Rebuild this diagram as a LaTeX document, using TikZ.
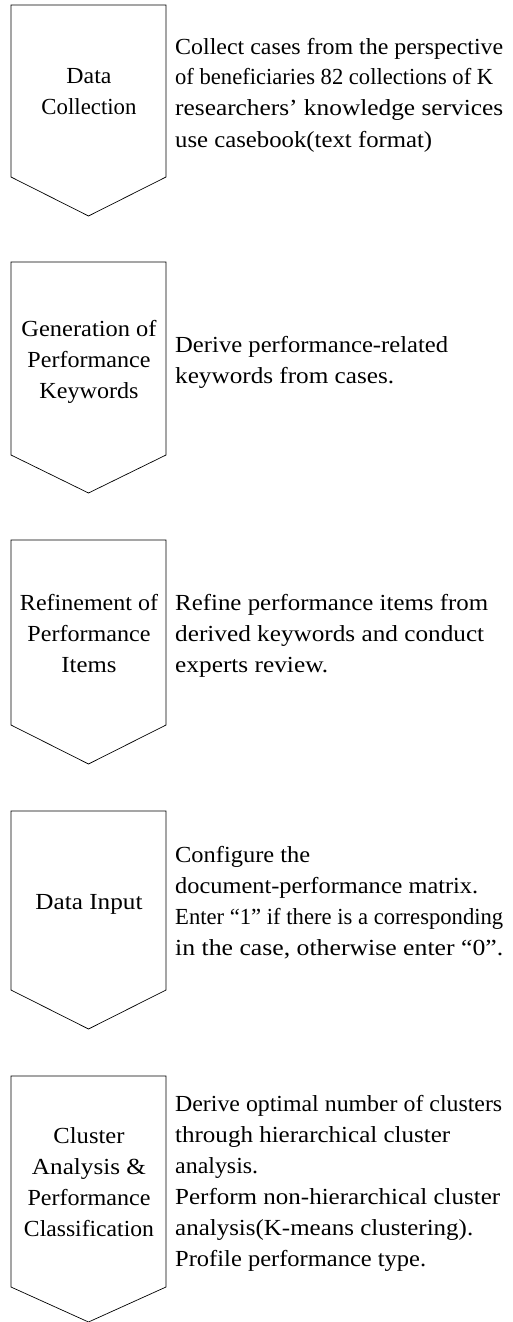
\documentclass[tikz,border=0pt]{standalone}
\usepackage{fontspec}
\usepackage{graphicx}
\setmainfont{Liberation Serif}
\newcommand{\fl}[2]{\resizebox{#1pt}{\height}{#2}}
\begin{document}
\begin{tikzpicture}[x=1pt,y=-1pt,
  chev/.style={draw=black, line width=0.7pt, line join=miter},
  lbl/.style={anchor=base, inner sep=0pt, font=\fontsize{23}{31}\selectfont},
  desc/.style={anchor=base west, inner sep=0pt, font=\fontsize{23}{31}\selectfont}]
\useasboundingbox (0,0) rectangle (512,1322);
% chevrons
\draw[chev] (11,5) coordinate (c1) -- (166,5) -- (166,177) -- (88.5,216) -- (11,177) -- cycle;
\draw[chev] (11,262) coordinate (c2) -- (166,262) -- (166,455) -- (88.5,493) -- (11,455) -- cycle;
\draw[chev] (11,540) coordinate (c3) -- (166,540) -- (166,725) -- (88.5,764) -- (11,725) -- cycle;
\draw[chev] (11,811) coordinate (c4) -- (166,811) -- (166,990) -- (88.5,1029) -- (11,990) -- cycle;
\draw[chev] (11,1076) coordinate (c5) -- (166,1076) -- (166,1287) -- (88.5,1322) -- (11,1287) -- cycle;
% labels
\node[lbl] (l1) at (89,84) {\begin{tabular}[t]{@{}c@{}}\fl{45}{Data}\\\fl{95}{Collection}\end{tabular}};
\node[lbl] (l2) at (89,336.5) {\begin{tabular}[t]{@{}c@{}}\fl{135}{Generation of}\\\fl{123}{Performance}\\\fl{99}{Keywords}\end{tabular}};
\node[lbl] (l3) at (89,610.5) {\begin{tabular}[t]{@{}c@{}}\fl{138}{Refinement of}\\\fl{123}{Performance}\\\fl{55}{Items}\end{tabular}};
\node[lbl] (l4) at (89,909) {\fl{107}{Data Input}};
\node[lbl] (l5) at (89,1143) {\begin{tabular}[t]{@{}c@{}}\fl{71}{Cluster}\\\fl{114}{Analysis \&}\\\fl{123}{Performance}\\\fl{130}{Classification}\end{tabular}};
% descriptions
\node[desc] (d1) at (175,54) {\begin{tabular}[t]{@{}l@{}}\fl{328}{Collect cases from the perspective}\\\fl{318}{of beneficiaries 82 collections of K}\\\fl{328}{researchers’ knowledge services}\\\fl{257}{use casebook(text format)}\end{tabular}};
\node[desc] (d2) at (175,352) {\begin{tabular}[t]{@{}l@{}}\fl{273}{Derive performance-related}\\\fl{219}{keywords from cases.}\end{tabular}};
\node[desc] (d3) at (175,610.5) {\begin{tabular}[t]{@{}l@{}}\fl{313}{Refine performance items from}\\\fl{309}{derived keywords and conduct}\\\fl{153}{experts review.}\end{tabular}};
\node[desc] (d4) at (175,862.5) {\begin{tabular}[t]{@{}l@{}}\fl{135}{Configure the}\\\fl{303}{document-performance matrix.}\\\fl{328}{Enter “1” if there is a corresponding}\\\fl{328}{in the case, otherwise enter “0”.}\end{tabular}};
\node[desc] (d5) at (175,1111.5) {\begin{tabular}[t]{@{}l@{}}\fl{327}{Derive optimal number of clusters}\\\fl{275}{through hierarchical cluster}\\\fl{83}{analysis.}\\\fl{325}{Perform non-hierarchical cluster}\\\fl{298}{analysis(K-means clustering).}\\\fl{251}{Profile performance type.}\end{tabular}};
\end{tikzpicture}
\end{document}
